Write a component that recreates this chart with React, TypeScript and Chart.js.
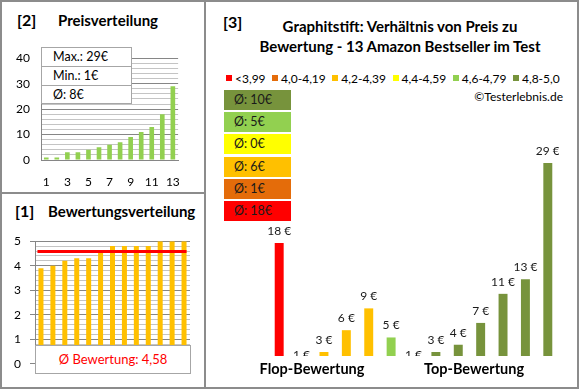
import React, { useEffect, useRef } from "react";
import { Chart, registerables } from "chart.js";

Chart.register(...registerables);

const FONT = "Lato, 'Open Sans', sans-serif";

// ---- Panel [2] Preisverteilung ----
const priceCategories = ["1", "2", "3", "4", "5", "6", "7", "8", "9", "10", "11", "12", "13"];
const sortedPrices = [1, 1, 3, 3, 4, 5, 6, 7, 9, 11, 13, 18, 29];
const priceStats = ["Max.: 29€", "Min.: 1€", "Ø: 8€"];
const priceTickLabels = ["0", "10", "20", "30", "40"];

// ---- Panel [1] Bewertungsverteilung ----
const ratingCategories = ["1", "2", "3", "4", "5", "6", "7", "8", "9", "10", "11", "12", "13"];
const sortedRatings = [3.9, 4.0, 4.2, 4.3, 4.3, 4.6, 4.8, 4.8, 4.8, 4.8, 5.0, 5.0, 5.0];
const avgRating = 4.58;
const avgRatingLabel = "Ø Bewertung: 4,58";

// ---- Panel [3] Preis zu Bewertung ----
const productCategories = ["P1", "P2", "P3", "P4", "P5", "P6", "P7", "P8", "P9", "P10", "P11", "P12", "P13"];
const productPrices = [18, 1, 3, 6, 9, 5, 1, 3, 4, 7, 11, 13, 29];
const productRatingClass = [0, 1, 2, 2, 2, 4, 5, 5, 5, 5, 5, 5, 5];
const classLabels = ["<3,99", "4,0-4,19", "4,2-4,39", "4,4-4,59", "4,6-4,79", "4,8-5,0"];
const classColors = ["#FF0000", "#E46C0A", "#FFC000", "#FFFF00", "#92D050", "#77933C"];
const classAvgLabels = ["Ø: 18€", "Ø: 1€", "Ø: 6€", "Ø: 0€", "Ø: 5€", "Ø: 10€"];
const groupLabels = ["Flop-Bewertung", "Top-Bewertung"];
const mainTitle = ["Graphitstift: Verhältnis von Preis zu", "Bewertung - 13 Amazon Bestseller im Test"];
const copyright = "©Testerlebnis.de";

const GRID_MAJOR = "#868686";
const GRID_MINOR = "#C4C4C4";
const BORDER = "#8C8C8C";

function isInt(v: number) {
  return Math.abs(v - Math.round(v)) < 1e-6;
}

const avgLinePlugin = {
  id: "avgLine",
  afterDatasetsDraw(chart: any) {
    const meta = chart.getDatasetMeta(0);
    const first = meta.data[0];
    const last = meta.data[meta.data.length - 1];
    const y = chart.scales.y.getPixelForValue(avgRating);
    const ctx = chart.ctx;
    ctx.save();
    ctx.strokeStyle = "#FF0000";
    ctx.lineWidth = 3;
    ctx.beginPath();
    ctx.moveTo(first.x - first.width / 2 - 1, y);
    ctx.lineTo(last.x + last.width / 2, y);
    ctx.stroke();
    ctx.restore();
  },
};

const valueLabelPlugin = {
  id: "valueLabels",
  afterDatasetsDraw(chart: any) {
    const meta = chart.getDatasetMeta(0);
    const ctx = chart.ctx;
    ctx.save();
    ctx.font = `12px ${FONT}`;
    ctx.fillStyle = "#1a1a1a";
    ctx.textAlign = "center";
    ctx.textBaseline = "alphabetic";
    meta.data.forEach((bar: any, i: number) => {
      ctx.fillText(`${productPrices[i]} €`, bar.x, bar.y - 8);
    });
    ctx.restore();
  },
};

function Text(props: { x: number; cy: number; size: number; bold?: boolean; color?: string; align?: "left" | "center" | "right"; w?: number; children: React.ReactNode }) {
  const { x, cy, size, bold, color, align = "left", w = 320 } = props;
  const h = 22;
  let left = x;
  if (align === "center") left = x - w / 2;
  if (align === "right") left = x - w;
  return (
    <div
      style={{
        position: "absolute",
        left,
        top: cy - h / 2,
        width: w,
        height: h,
        lineHeight: `${h}px`,
        fontSize: size,
        fontWeight: bold ? 700 : 400,
        color: color || "#000",
        textAlign: align,
        whiteSpace: "nowrap",
        fontFamily: FONT,
      }}
    >
      {props.children}
    </div>
  );
}

export default function App() {
  const refA = useRef<HTMLCanvasElement>(null);
  const refB = useRef<HTMLCanvasElement>(null);
  const refC = useRef<HTMLCanvasElement>(null);

  useEffect(() => {
    const tickFont = { family: FONT, size: 12 };
    const chartA = new Chart(refA.current!, {
      type: "bar",
      data: {
        labels: priceCategories,
        datasets: [
          {
            data: sortedPrices,
            backgroundColor: "#92D050",
            barPercentage: 0.44,
            categoryPercentage: 1,
          },
        ],
      },
      options: {
        animation: false,
        responsive: false,
        devicePixelRatio: 1,
        layout: { padding: { top: 7, right: 5, left: 0, bottom: 0 } },
        plugins: { legend: { display: false }, tooltip: { enabled: false } },
        scales: {
          x: {
            grid: { display: false, drawTicks: false },
            border: { color: GRID_MAJOR },
            ticks: {
              autoSkip: false,
              maxRotation: 0,
              padding: 15,
              color: "#000",
              font: tickFont,
              callback: (_v: any, i: number) => (i % 2 === 0 ? priceCategories[i] : ""),
            },
            afterFit: (s: any) => {
              s.height = 30;
            },
          },
          y: {
            min: 0,
            max: 40,
            ticks: {
              autoSkip: false,
              stepSize: 2,
              padding: 11,
              color: "#000",
              font: tickFont,
              callback: (v: any) => {
                const idx = priceTickLabels.indexOf(String(v));
                return idx >= 0 ? priceTickLabels[idx] : "";
              },
            },
            grid: {
              drawTicks: false,
              color: (c: any) => (c.tick && c.tick.value % 10 === 0 ? GRID_MAJOR : GRID_MINOR),
            },
            border: { color: GRID_MAJOR },
            afterFit: (s: any) => {
              s.width = 41;
            },
          },
        },
      },
    });

    const chartB = new Chart(refB.current!, {
      type: "bar",
      data: {
        labels: ratingCategories,
        datasets: [
          {
            data: sortedRatings,
            backgroundColor: "#FFC000",
            barPercentage: 0.42,
            categoryPercentage: 1,
          },
        ],
      },
      options: {
        animation: false,
        responsive: false,
        devicePixelRatio: 1,
        layout: { padding: { top: 13, right: 5, left: 0, bottom: 0 } },
        plugins: { legend: { display: false }, tooltip: { enabled: false } },
        scales: {
          x: {
            grid: { display: false },
            ticks: { display: false },
            border: { color: GRID_MAJOR },
            afterFit: (s: any) => {
              s.height = 6;
            },
          },
          y: {
            min: 0,
            max: 5,
            ticks: {
              autoSkip: false,
              stepSize: 0.2,
              padding: 9,
              color: "#000",
              font: tickFont,
              callback: (v: any) => (isInt(Number(v)) ? String(Math.round(Number(v))) : ""),
            },
            grid: {
              drawTicks: true,
              tickLength: 5,
              color: (c: any) => (c.tick && isInt(c.tick.value) ? GRID_MAJOR : GRID_MINOR),
              tickColor: (c: any) => (c.tick && isInt(c.tick.value) ? GRID_MAJOR : "rgba(0,0,0,0)"),
            },
            border: { color: GRID_MAJOR },
            afterFit: (s: any) => {
              s.width = 35;
            },
          },
        },
      },
      plugins: [avgLinePlugin],
    });

    const chartC = new Chart(refC.current!, {
      type: "bar",
      data: {
        labels: productCategories,
        datasets: [
          {
            data: productPrices,
            backgroundColor: productRatingClass.map((c) => classColors[c]),
            barPercentage: 0.4,
            categoryPercentage: 1,
          },
        ],
      },
      options: {
        animation: false,
        responsive: false,
        devicePixelRatio: 1,
        layout: { padding: 0 },
        plugins: { legend: { display: false }, tooltip: { enabled: false } },
        scales: {
          x: { display: false },
          y: { display: false, min: 2.45, max: 37.66 },
        },
      },
      plugins: [valueLabelPlugin],
    });

    return () => {
      chartA.destroy();
      chartB.destroy();
      chartC.destroy();
    };
  }, []);

  const avgBoxOrder = [5, 4, 3, 2, 1, 0];

  return (
    <div
      style={{
        position: "fixed",
        left: 0,
        top: 0,
        width: 580,
        height: 390,
        background: "#fff",
        fontFamily: FONT,
        overflow: "hidden",
      }}
    >
      {/* borders */}
      <div style={{ position: "absolute", left: 0, top: 0, width: 579, height: 389, border: `2px solid ${BORDER}`, boxSizing: "border-box" }} />
      <div style={{ position: "absolute", left: 204, top: 0, width: 2, height: 389, background: BORDER }} />
      <div style={{ position: "absolute", left: 0, top: 192, width: 205, height: 2, background: BORDER }} />

      {/* Panel [2] */}
      <Text x={17} cy={20} size={16} bold>[2]</Text>
      <Text x={58} cy={20} size={15} bold>Preisverteilung</Text>
      <canvas ref={refA} width={195} height={150} style={{ position: "absolute", left: 0, top: 40 }} />
      <div
        style={{
          position: "absolute",
          left: 41,
          top: 47,
          width: 91,
          height: 57,
          background: "#fff",
          border: "1px solid #A6A6A6",
          boxSizing: "border-box",
        }}
      >
        {priceStats.map((s, i) => (
          <div
            key={s}
            style={{
              height: i < 2 ? 19 : 17,
              lineHeight: i < 2 ? "18px" : "17px",
              borderBottom: i < 2 ? "1px solid #A6A6A6" : "none",
              boxSizing: "border-box",
              paddingLeft: 11,
              fontSize: 12.5,
              color: "#000",
            }}
          >
            {s}
          </div>
        ))}
      </div>

      {/* Panel [1] */}
      <Text x={15} cy={211} size={16} bold>[1]</Text>
      <Text x={48} cy={211} size={15} bold>Bewertungsverteilung</Text>
      <canvas ref={refB} width={195} height={155} style={{ position: "absolute", left: 0, top: 225 }} />
      <div
        style={{
          position: "absolute",
          left: 35,
          top: 345,
          width: 156,
          height: 29,
          background: "#fff",
          border: "1px solid #A6A6A6",
          boxSizing: "border-box",
          textAlign: "center",
          lineHeight: "27px",
          fontSize: 13,
          color: "#FF0000",
        }}
      >
        {avgRatingLabel}
      </div>

      {/* Panel [3] */}
      <Text x={223} cy={22} size={16} bold>[3]</Text>
      <Text x={400} cy={26} size={15} bold align="center">{mainTitle[0]}</Text>
      <Text x={400} cy={46} size={15} bold align="center">{mainTitle[1]}</Text>
      <div
        style={{
          position: "absolute",
          left: 226,
          top: 68,
          height: 20,
          display: "flex",
          alignItems: "center",
          fontSize: 12,
          whiteSpace: "nowrap",
        }}
      >
        {classLabels.map((l, i) => (
          <div key={l} style={{ display: "flex", alignItems: "center", marginRight: 6.5 }}>
            <div style={{ width: 6, height: 6, background: classColors[i], marginRight: 3 }} />
            <span>{l}</span>
          </div>
        ))}
      </div>
      <Text x={563} cy={97} size={12} align="right">{copyright}</Text>
      {avgBoxOrder.map((c, i) => (
        <div
          key={c}
          style={{
            position: "absolute",
            left: 224,
            top: 90 + i * 22.2,
            width: 67,
            height: 20,
            background: classColors[c],
            lineHeight: "20px",
            paddingLeft: 10,
            boxSizing: "border-box",
            fontSize: 12.5,
            color: "#1a1a1a",
          }}
        >
          {classAvgLabels[c]}
        </div>
      ))}
      <canvas ref={refC} width={291} height={256} style={{ position: "absolute", left: 268, top: 100 }} />
      <Text x={312} cy={369} size={14.5} bold align="center">{groupLabels[0]}</Text>
      <Text x={474} cy={369} size={14.5} bold align="center">{groupLabels[1]}</Text>
    </div>
  );
}
